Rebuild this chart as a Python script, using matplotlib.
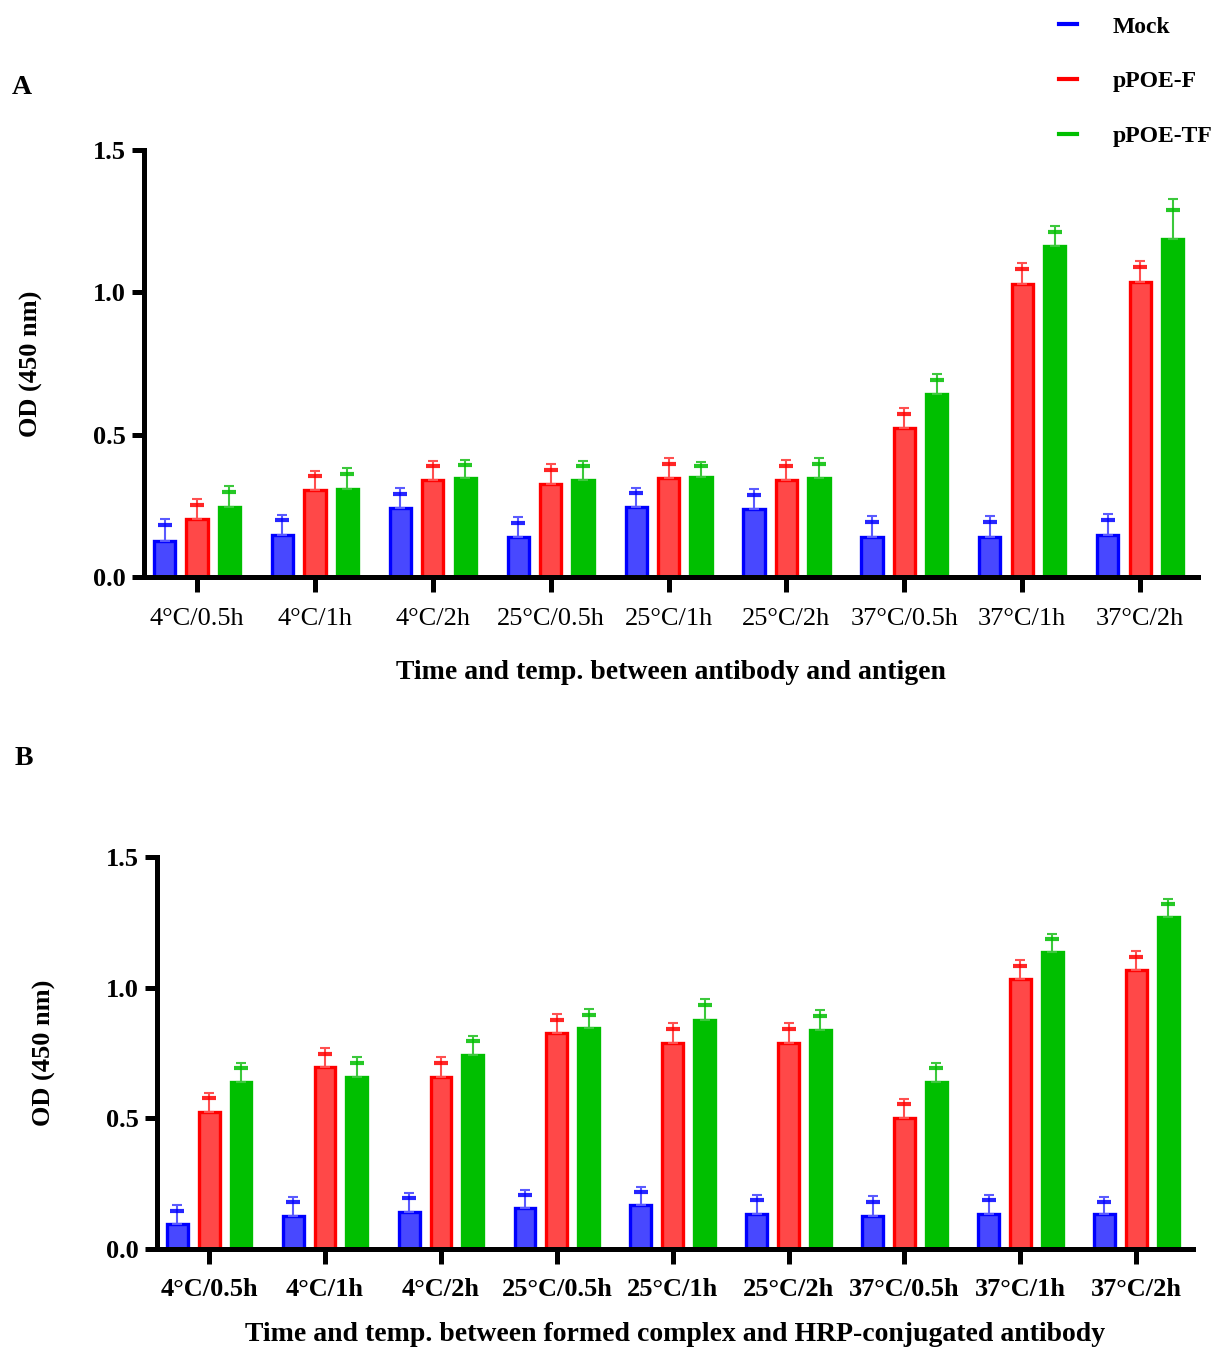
import matplotlib
matplotlib.use('Agg')
import matplotlib.pyplot as plt
from matplotlib.lines import Line2D
import numpy as np

plt.rcParams['font.family'] = 'Liberation Serif'

# categorias comunes a los dos paneles
condiciones = ['4°C/0.5h', '4°C/1h', '4°C/2h', '25°C/0.5h', '25°C/1h',
               '25°C/2h', '37°C/0.5h', '37°C/1h', '37°C/2h']
grupos = ['Mock', 'pPOE-F', 'pPOE-TF']

# Panel A: anticuerpo + antigeno
mock_a = [0.126, 0.148, 0.242, 0.140, 0.246, 0.239, 0.140, 0.140, 0.147]
mock_a_err = [0.078, 0.070, 0.071, 0.070, 0.067, 0.070, 0.074, 0.074, 0.074]
f_a = [0.204, 0.305, 0.340, 0.327, 0.348, 0.341, 0.523, 1.029, 1.036]
f_a_err = [0.070, 0.068, 0.068, 0.070, 0.070, 0.070, 0.071, 0.074, 0.074]
tf_a = [0.246, 0.309, 0.348, 0.341, 0.351, 0.348, 0.643, 1.163, 1.187]
tf_a_err = [0.074, 0.074, 0.062, 0.066, 0.053, 0.070, 0.070, 0.070, 0.141]

# Panel B: complejo + anticuerpo HRP
mock_b = [0.097, 0.127, 0.142, 0.157, 0.169, 0.134, 0.127, 0.134, 0.134]
mock_b_err = [0.070, 0.073, 0.073, 0.069, 0.069, 0.073, 0.076, 0.073, 0.066]
f_b = [0.525, 0.695, 0.660, 0.825, 0.790, 0.790, 0.503, 1.032, 1.066]
f_b_err = [0.073, 0.073, 0.073, 0.073, 0.073, 0.073, 0.072, 0.073, 0.073]
tf_b = [0.641, 0.660, 0.744, 0.844, 0.878, 0.840, 0.641, 1.135, 1.270]
tf_b_err = [0.072, 0.073, 0.073, 0.073, 0.077, 0.073, 0.072, 0.069, 0.069]

borde = ['#0000FF', '#FF0000', '#00BF00']
relleno = ['#4848FF', '#FF4848', '#00BF00']
color_err = ['#5A5AFF', '#FF5050', '#3CC83C']


def panel(ax, series, errores, xlabel, bold_ticks, pad_x, pad_lbl):
    x = np.arange(len(condiciones))
    offs = [-0.275, 0.0, 0.275]
    for i in range(3):
        xs = x + offs[i]
        vals = np.array(series[i])
        errs = np.array(errores[i])
        ax.bar(xs, vals, width=0.18, color=relleno[i], edgecolor=borde[i],
               linewidth=2.4, zorder=2)
        ax.errorbar(xs, vals, yerr=[np.zeros_like(errs), errs], fmt='none',
                    ecolor=color_err[i], elinewidth=1.5, capsize=3.5,
                    capthick=1.5, zorder=3)
        # marca gruesa bajo el cap (estilo Prism)
        ax.plot(xs, vals + errs * 0.72, ls='none', marker='_', ms=10,
                mew=3, color=borde[i], alpha=0.85, zorder=3)

    ax.set_xlim(-0.45, 8.49)
    ax.set_ylim(0, 1.5)
    ax.set_yticks([0, 0.5, 1.0, 1.5])
    ax.set_yticklabels(['0.0', '0.5', '1.0', '1.5'], fontsize=19,
                       fontweight='bold')
    ax.set_xticks(x)
    ax.set_xticklabels(condiciones, fontsize=19,
                       fontweight='bold' if bold_ticks else 'normal')
    ax.spines['top'].set_visible(False)
    ax.spines['right'].set_visible(False)
    ax.spines['left'].set_linewidth(3.6)
    ax.spines['bottom'].set_linewidth(3.6)
    ax.tick_params(axis='y', length=9, width=3.6, pad=4)
    ax.tick_params(axis='x', length=11, width=3.6, pad=pad_x)
    ax.set_ylabel('OD (450 nm)', fontsize=19, fontweight='bold', labelpad=36)
    ax.set_xlabel(xlabel, fontsize=20, fontweight='bold', labelpad=pad_lbl)


fig = plt.figure(figsize=(12.22, 13.49), dpi=100)
ax1 = fig.add_axes([0.1178, 0.5723, 0.8625, 0.3165])
ax2 = fig.add_axes([0.1285, 0.0741, 0.8478, 0.2906])

panel(ax1, [mock_a, f_a, tf_a], [mock_a_err, f_a_err, tf_a_err],
      'Time and temp. between antibody and antigen', False, 11, 22)
panel(ax2, [mock_b, f_b, tf_b], [mock_b_err, f_b_err, tf_b_err],
      'Time and temp. between formed complex and HRP-conjugated antibody',
      True, 10, 15)

fig.text(0.010, 0.935, 'A', fontsize=20, fontweight='bold', va='center')
fig.text(0.012, 0.438, 'B', fontsize=20, fontweight='bold', va='center')

handles = [Line2D([0], [0], color=borde[i], lw=3) for i in range(3)]
fig.legend(handles, grupos, loc='upper left', bbox_to_anchor=(0.867, 0.988),
           frameon=False, prop={'size': 17, 'weight': 'bold'},
           handlelength=0.75, handletextpad=1.5, labelspacing=1.4,
           borderpad=0, borderaxespad=0)

fig.savefig('out.png', dpi=100)
plt.close()
